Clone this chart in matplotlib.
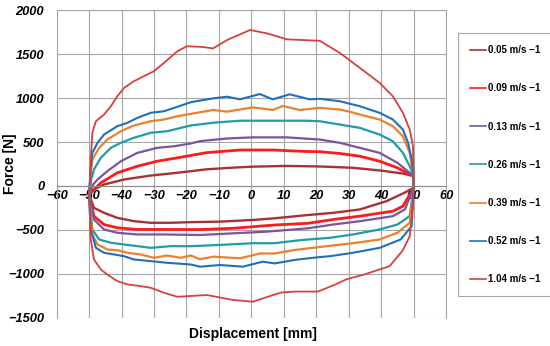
import matplotlib.pyplot as plt

speeds = ["0.05 m/s \u22121", "0.09 m/s \u22121", "0.13 m/s \u22121", "0.26 m/s \u22121",
          "0.39 m/s \u22121", "0.52 m/s \u22121", "1.04 m/s \u22121"]
colors = ["#A83232", "#FF1A1A", "#7B54A0", "#1E9CA8", "#EE7F2D", "#1F70BC", "#D6403F"]
widths = [1.7, 2.0, 1.6, 1.6, 1.6, 1.5, 1.3]

# upper branch (stroke from -50 to +50)
up_x = [
    [-50, -48.5, -45.4, -39.2, -31, -24.9, -18.7, -13.8, -5, 0.5, 10.9, 21.1, 31.3, 40, 47, 50],
    [-50, -48.2, -46.4, -41.3, -35.1, -29, -22.8, -18.7, -13.8, -3.5, 6.6, 16.9, 21.1, 27.2,
     33.4, 39.5, 45, 48.8, 50],
    [-50, -48.7, -47.4, -44.4, -40.2, -35.1, -29, -23.8, -18.7, -15.8, -7.5, 0.5, 10.9, 21.1,
     27.2, 33.4, 39.5, 45, 48.8, 50],
    [-50, -49.3, -48.5, -46.4, -43.3, -40.2, -36.2, -31, -25.9, -18.7, -11.8, -3.5, 6.6, 16.9,
     21.1, 27.2, 33.4, 39.5, 43.6, 46.7, 48.8, 50],
    [-50, -49.5, -49, -46.9, -44.4, -40.2, -36.2, -31, -26.9, -22.8, -18.7, -11.8, -7.5, 0.5,
     6.6, 9.7, 14.9, 21.1, 27.2, 30.3, 33.4, 39.5, 43.6, 46.7, 48.8, 50],
    [-50, -49.5, -49, -47.4, -45.4, -41.3, -38.2, -35.1, -31, -26.9, -22.8, -18.7, -11.8, -7.5,
     -3.5, 2.6, 6.6, 11.8, 18, 21.1, 27.2, 33.4, 39.5, 43.6, 46.7, 48.3, 49.4, 50],
    [-50, -49.7, -49.5, -49, -47.9, -45.4, -43.3, -41.3, -39.2, -36.2, -33.1, -30, -26.9, -22.8,
     -19.8, -15, -11.8, -7.5, -0.4, 4.8, 11, 21.1, 27.2, 33.4, 39.5, 43.6, 46.7, 48.8, 49.8, 50],
]
up_y = [
    [-100, -40, 17, 74, 119, 142, 168, 190, 210, 220, 228, 222, 207, 175, 140, 111],
    [-100, -30, 36, 150, 225, 282, 320, 347, 379, 409, 409, 392, 390, 370,
     339, 282, 207, 131, 111],
    [-100, 20, 74, 168, 282, 377, 434, 452, 483, 510, 540, 553, 553, 528,
     491, 434, 377, 264, 150, 111],
    [-100, 80, 188, 320, 434, 491, 548, 605, 623, 688, 719, 742, 742, 742,
     736, 699, 661, 585, 509, 377, 225, 111],
    [-100, 150, 301, 434, 528, 623, 688, 736, 756, 793, 820, 864, 845, 894,
     864, 909, 864, 888, 869, 845, 812, 756, 680, 566, 377, 111],
    [-100, 200, 377, 491, 585, 680, 718, 775, 832, 850, 900, 952, 996, 1015,
     985, 1045, 985, 1042, 985, 991, 964, 907, 832, 756, 642, 491, 301, 111],
    [-100, 100, 301, 605, 736, 812, 907, 1020, 1116, 1191, 1248, 1305, 1400, 1532,
     1589, 1580, 1564, 1659, 1773, 1735, 1667, 1650, 1514, 1343, 1173, 1020, 832, 642, 452, 111],
]

# lower branch (return from +50 to -50)
lo_x = [
    [50, 47, 41.6, 33.4, 25.2, 17.4, 7.2, 0.5, -9.7, -18.7, -24.9, -31, -36.2, -41.3, -45.4,
     -48.5, -50],
    [50, 46.7, 43.6, 33.4, 25.2, 17.4, 7.2, -5.7, -15.8, -26.9, -35.1, -41.3, -45.4, -48.5, -50],
    [50, 47.3, 43.6, 33.4, 25.2, 17.4, 4.7, -5.7, -15.8, -26.9, -35.1, -41.3, -45.4, -48.5, -50],
    [50, 48.8, 45, 39.5, 31.3, 24.2, 15.4, 7.2, 0.5, -9.7, -18.7, -24.9, -31, -35.1, -39.2,
     -43.3, -46.9, -49, -50],
    [50, 48.8, 45, 39.5, 31.3, 24.2, 19.5, 13.4, 7.2, 2.6, -3.5, -11.8, -15.8, -18.7, -21.8,
     -25.9, -30, -34.1, -38.2, -41.3, -44.4, -47.4, -49, -50],
    [50, 49.4, 46, 39.5, 31.3, 24.2, 20.4, 13.4, 7.2, 3.5, -2.6, -9.7, -15.8, -18.7, -25.9,
     -31, -36.2, -39.2, -42.3, -45.4, -47.9, -49.5, -50],
    [50, 49.8, 48.8, 46.7, 42.6, 39.5, 34.4, 29.3, 25.2, 20.5, 13.4, 9.3, 6.6, 0.5, -5.7,
     -13.7, -18.7, -22.8, -26.9, -31, -34.1, -38.2, -41.3, -44.4, -46.4, -48.5, -49.5, -50],
]
lo_y = [
    [-20, -80, -173, -267, -305, -330, -367, -386, -405, -411, -418, -418, -400, -362, -305,
     -248, -100],
    [-20, -230, -286, -343, -381, -424, -443, -481, -495, -494, -494, -475, -438, -343, -100],
    [-20, -267, -343, -400, -438, -481, -519, -538, -557, -551, -551, -532, -494, -381, -100],
    [-20, -343, -438, -494, -551, -589, -614, -650, -650, -670, -684, -684, -703, -684, -665,
     -645, -608, -494, -100],
    [-20, -418, -532, -608, -650, -680, -700, -727, -767, -767, -822, -803, -833, -790, -816,
     -790, -816, -778, -759, -729, -722, -665, -551, -100],
    [-20, -457, -608, -703, -759, -798, -810, -840, -880, -860, -917, -898, -917, -892, -873,
     -854, -835, -798, -778, -759, -703, -494, -100],
    [-20, -230, -570, -730, -911, -949, -1010, -1060, -1130, -1200, -1200, -1210, -1240, -1315, -1295,
     -1239, -1250, -1259, -1214, -1157, -1138, -1119, -1081, -1006, -949, -835, -608, -100],
]

fig = plt.figure(figsize=(5.5, 3.46), dpi=100)
ax = fig.add_axes([0.103, 0.081, 0.708, 0.890])

for i in range(len(speeds)):
    ax.plot(up_x[i] + lo_x[i], up_y[i] + lo_y[i], color=colors[i], lw=widths[i], label=speeds[i])

ax.set_xlim(-60, 60)
ax.set_ylim(-1500, 2000)
ax.set_xticks(range(-60, 61, 10))
ax.set_yticks(range(-1500, 2001, 500))
ax.grid(True, color="#A6A6A6", lw=0.8)
ax.set_axisbelow(True)

for s in ["top", "left", "right"]:
    ax.spines[s].set_color("#A6A6A6")
    ax.spines[s].set_linewidth(0.8)
ax.spines["bottom"].set_position(("data", 0))
ax.spines["bottom"].set_color("#8C8C8C")
ax.tick_params(length=0)
ax.tick_params(axis="x", pad=3)
ax.tick_params(axis="y", pad=9)

for lab in ax.get_xticklabels() + ax.get_yticklabels():
    lab.set_family("Liberation Sans")
    lab.set_fontweight("bold")
    lab.set_fontstyle("italic")
    lab.set_fontsize(9.3)

fig.text(10 / 550, 1 - 164 / 346, "Force [N]", rotation=90, fontsize=10, fontweight="bold",
         family="Liberation Sans", ha="center", va="center")
fig.text(253 / 550, 1 - 334 / 346, "Displacement [mm]", fontsize=10, fontweight="bold",
         family="Liberation Sans", ha="center", va="center")

leg = ax.legend(loc="upper left", bbox_to_anchor=(458 / 550, 1 - 33 / 346),
                bbox_transform=fig.transFigure, borderaxespad=0, fancybox=False,
                edgecolor="#A6A6A6", framealpha=1, handlelength=1.6, handletextpad=0.2,
                labelspacing=2.9, borderpad=1.25,
                prop={"family": "Liberation Sans", "weight": "bold", "size": 7})
leg.get_frame().set_linewidth(0.8)
for h in leg.get_lines():
    h.set_linewidth(1.2)

fig.savefig("out.png", dpi=100)
